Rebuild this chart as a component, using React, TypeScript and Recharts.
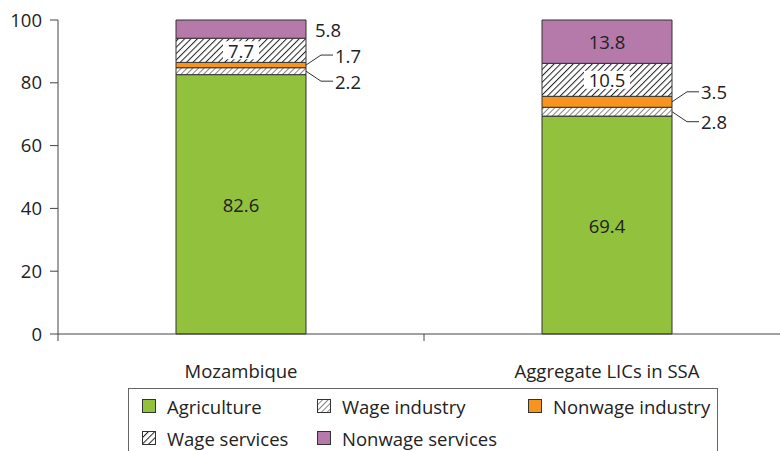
import React from 'react';
import { BarChart, Bar, XAxis, YAxis, LabelList, Legend } from 'recharts';

const categories = ['Mozambique', 'Aggregate LICs in SSA'];
const agriculture = [82.6, 69.4];
const wageIndustry = [2.2, 2.8];
const nonwageIndustry = [1.7, 3.5];
const wageServices = [7.7, 10.5];
const nonwageServices = [5.8, 13.8];
const yTicks = [0, 20, 40, 60, 80, 100];
const xBoundaryTicks = [0, 0.5, 1, 1.5, 2];
const legendOrder = ['Agriculture', 'Wage industry', 'Nonwage industry', 'Wage services', 'Nonwage services'];

const data = categories.map((name, i) => ({
  name,
  pos: i + 0.5,
  agriculture: agriculture[i],
  wageIndustry: wageIndustry[i],
  nonwageIndustry: nonwageIndustry[i],
  wageServices: wageServices[i],
  nonwageServices: nonwageServices[i],
}));

const FONT = '"Open Sans", sans-serif';
const FS = 18.5;
const TXT = '#222';
const AXIS = '#444';
const EDGE = '#333';
const GREEN = '#92C13E';
const ORANGE = '#F7941D';
const PURPLE = '#B579AA';

const XTick = (props: any) => {
  const { x, y, payload } = props;
  const v = payload.value;
  if (Number.isInteger(v)) {
    return <line x1={x} x2={x} y1={y} y2={y + 7} stroke={AXIS} strokeWidth={1} />;
  }
  return (
    <text x={x} y={y + 36} textAnchor="middle" dominantBaseline="central" fill={TXT} fontSize={FS} fontFamily={FONT}>
      {categories[Math.floor(v)]}
    </text>
  );
};

const CenterLabel = (props: any) => {
  const { x, y, width, height, value } = props;
  return (
    <text x={x + width / 2} y={y + height / 2} textAnchor="middle" dominantBaseline="central" fill={TXT} fontSize={FS} fontFamily={FONT}>
      {value}
    </text>
  );
};

const BoxLabel = (props: any) => {
  const { x, y, width, height, value } = props;
  const s = String(value);
  const w = s.length * 10 + 6;
  const cx = x + width / 2;
  const cy = y + height / 2;
  return (
    <g>
      <rect x={cx - w / 2} y={cy - 9} width={w} height={18} fill="#fff" />
      <text x={cx} y={cy} textAnchor="middle" dominantBaseline="central" fill={TXT} fontSize={FS} fontFamily={FONT}>
        {s}
      </text>
    </g>
  );
};

const makeLeader = (dir: number) => (props: any) => {
  const { x, y, width, height, value } = props;
  const x0 = x + width;
  const y0 = y + height / 2;
  const y1 = y0 + dir * 10;
  return (
    <g>
      <polyline points={`${x0},${y0} ${x0 + 15},${y1} ${x0 + 27},${y1}`} fill="none" stroke={EDGE} strokeWidth={1} />
      <text x={x0 + 29} y={y1} textAnchor="start" dominantBaseline="central" fill={TXT} fontSize={FS} fontFamily={FONT}>
        {value}
      </text>
    </g>
  );
};

const TopLabel = (props: any) => {
  const { x, y, width, height, value } = props;
  if (height < 30) {
    return (
      <text x={x + width + 9} y={y + height / 2} textAnchor="start" dominantBaseline="central" fill={TXT} fontSize={FS} fontFamily={FONT}>
        {value}
      </text>
    );
  }
  return <CenterLabel {...props} />;
};

const renderLegend = (props: any) => {
  const items = [...(props.payload || [])].sort(
    (a: any, b: any) => legendOrder.indexOf(a.value) - legendOrder.indexOf(b.value)
  );
  return (
    <div
      style={{
        width: 590,
        height: 80,
        boxSizing: 'border-box',
        border: '1px solid #666',
        display: 'grid',
        gridTemplateColumns: '175px 211px auto',
        gridAutoRows: '32px',
        paddingTop: 1,
        paddingLeft: 13,
        fontFamily: FONT,
        fontSize: FS,
        color: TXT,
      }}
    >
      {items.map((entry: any, i: number) => (
        <div key={i} style={{ display: 'flex', alignItems: 'center', whiteSpace: 'nowrap' }}>
          <svg width={14} height={14} style={{ marginRight: 11, flex: 'none' }}>
            <rect x={0.5} y={0.5} width={13} height={13} fill={entry.color} stroke={EDGE} strokeWidth={1} />
          </svg>
          <span>{entry.value}</span>
        </div>
      ))}
    </div>
  );
};

export default function App() {
  return (
    <div style={{ position: 'absolute', left: 0, top: 0, width: 780, height: 451, overflow: 'hidden', background: '#fff' }}>
      <BarChart width={790} height={451} data={data} margin={{ top: 20, right: 0, left: 0, bottom: 0 }} barSize={130}>
        <defs>
          <pattern id="hatchWageInd" patternUnits="userSpaceOnUse" width="4" height="4" patternTransform="rotate(45)">
            <rect width="4" height="4" fill="#fff" />
            <line x1="0" y1="0" x2="0" y2="4" stroke="#222" strokeWidth="1.1" />
          </pattern>
          <pattern id="hatchWageServ" patternUnits="userSpaceOnUse" width="4.5" height="4.5" patternTransform="rotate(45)">
            <rect width="4.5" height="4.5" fill="#fff" />
            <line x1="0" y1="0" x2="0" y2="4.5" stroke="#222" strokeWidth="2" />
          </pattern>
        </defs>
        <XAxis
          dataKey="pos"
          type="number"
          domain={[0, 2]}
          ticks={xBoundaryTicks}
          interval={0}
          tickSize={0}
          tickMargin={0}
          tickLine={false}
          tick={<XTick />}
          axisLine={{ stroke: AXIS, strokeWidth: 1 }}
          height={117}
        />
        <YAxis
          type="number"
          domain={[0, 100]}
          ticks={yTicks}
          width={58}
          tickSize={8}
          tickMargin={8}
          axisLine={{ stroke: AXIS, strokeWidth: 1 }}
          tickLine={{ stroke: AXIS, strokeWidth: 1 }}
          tick={{ fill: TXT, fontSize: FS, fontFamily: FONT }}
        />
        <Legend
          layout="vertical"
          align="center"
          verticalAlign="middle"
          content={renderLegend}
          wrapperStyle={{ position: 'absolute', left: 128, top: 388, width: 590, height: 80 }}
        />
        <Bar dataKey="agriculture" name="Agriculture" stackId="s" fill={GREEN} stroke={EDGE} strokeWidth={1} isAnimationActive={false}>
          <LabelList dataKey="agriculture" content={CenterLabel} />
        </Bar>
        <Bar dataKey="wageIndustry" name="Wage industry" stackId="s" fill="url(#hatchWageInd)" stroke={EDGE} strokeWidth={1} isAnimationActive={false}>
          <LabelList dataKey="wageIndustry" content={makeLeader(1)} />
        </Bar>
        <Bar dataKey="nonwageIndustry" name="Nonwage industry" stackId="s" fill={ORANGE} stroke={EDGE} strokeWidth={1} isAnimationActive={false}>
          <LabelList dataKey="nonwageIndustry" content={makeLeader(-1)} />
        </Bar>
        <Bar dataKey="wageServices" name="Wage services" stackId="s" fill="url(#hatchWageServ)" stroke={EDGE} strokeWidth={1} isAnimationActive={false}>
          <LabelList dataKey="wageServices" content={BoxLabel} />
        </Bar>
        <Bar dataKey="nonwageServices" name="Nonwage services" stackId="s" fill={PURPLE} stroke={EDGE} strokeWidth={1} isAnimationActive={false}>
          <LabelList dataKey="nonwageServices" content={TopLabel} />
        </Bar>
      </BarChart>
    </div>
  );
}
